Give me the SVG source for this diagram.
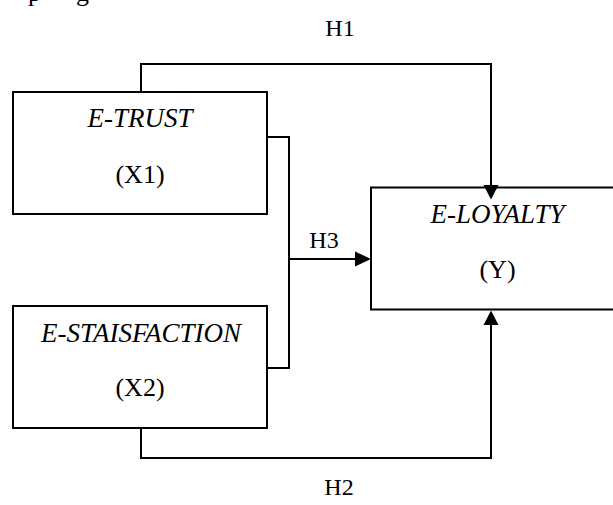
<svg xmlns="http://www.w3.org/2000/svg" width="613" height="505" viewBox="0 0 613 505">
  <style>
    .box { fill: #fff; stroke: #000; stroke-width: 2; }
    .wire { fill: none; stroke: #000; stroke-width: 2; }
    .head { fill: #000; stroke: none; }
    text { font-family: "Liberation Serif", "Times New Roman", serif; fill: #000; text-anchor: middle; }
    .name { font-style: italic; font-size: 27px; }
    .code { font-size: 26px; }
    .hyp { font-size: 24px; }
    .tail { font-size: 26px; text-anchor: start; }
  </style>

  <!-- descenders of the line above -->
  <text class="tail" x="28" y="1">p</text>
  <text class="tail" x="76" y="1">g</text>

  <g id="node-etrust">
    <rect class="box" x="13" y="92" width="254" height="122"/>
    <text class="name" x="140" y="127">E-TRUST</text>
    <text class="code" x="140" y="183">(X1)</text>
  </g>

  <g id="node-esatisfaction">
    <rect class="box" x="13" y="306" width="254" height="122"/>
    <text class="name" x="141" y="341.5">E-STAISFACTION</text>
    <text class="code" x="140" y="396">(X2)</text>
  </g>

  <g id="node-eloyalty">
    <rect class="box" x="371" y="187.5" width="260" height="122"/>
    <text class="name" x="497.5" y="223">E-LOYALTY</text>
    <text class="code" x="497.5" y="278">(Y)</text>
  </g>

  <g id="connectors">
    <!-- H1: E-TRUST to E-LOYALTY -->
    <polyline class="wire" points="141,92 141,64 491,64 491,186"/>
    <polygon class="head" points="483.5,185 498.5,185 491,199.5"/>
    <!-- H3: joint bracket of X1 and X2 into E-LOYALTY -->
    <polyline class="wire" points="267,137 289,137 289,368 267,368"/>
    <line class="wire" x1="289" y1="259" x2="356" y2="259"/>
    <polygon class="head" points="355,251.5 355,266.5 371,259"/>
    <!-- H2: E-STAISFACTION to E-LOYALTY -->
    <polyline class="wire" points="141,428 141,458 491,458 491,324"/>
    <polygon class="head" points="483.5,325 498.5,325 491,310.5"/>
  </g>

  <text class="hyp" x="340" y="36">H1</text>
  <text class="hyp" x="324" y="248">H3</text>
  <text class="hyp" x="339" y="495">H2</text>
</svg>
